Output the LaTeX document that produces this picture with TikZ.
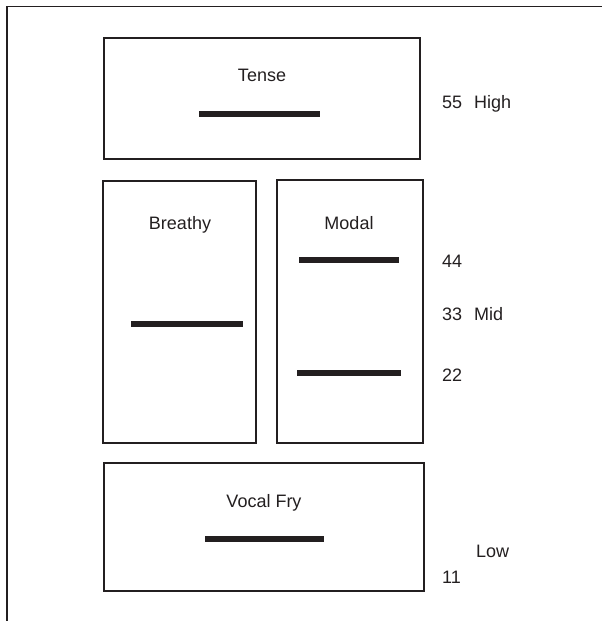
\documentclass[tikz,border=0pt]{standalone}
\usepackage{fontspec}
\setmainfont{Liberation Sans}
\definecolor{ink}{HTML}{231F20}
\tikzset{
  frameline/.style={draw=ink, line width=1.2pt},
  regbox/.style={draw=ink, line width=2.6pt},
  bar/.style={draw=ink, line width=6pt},
  lab/.style={anchor=base, inner sep=0pt, text=ink, font=\fontsize{18}{20}\selectfont},
  num/.style={anchor=base west, inner sep=0pt, text=ink, font=\fontsize{18}{20}\selectfont},
}
\begin{document}
\begin{tikzpicture}[x=1pt, y=-1pt]
  \useasboundingbox (0,0) rectangle (602,621);
  % outer frame: top and left edges only
  \draw[frameline] (7,621) -- (7,6.5) -- (602,6.5);

  % register boxes
  \draw[regbox] (104,38) rectangle (420,159);
  \draw[regbox] (103,181) rectangle (256,443);
  \draw[regbox] (277,180) rectangle (423,443);
  \draw[regbox] (104,463) rectangle (424,591);

  % box titles
  \node[lab] (tense)  at (262,81)  {Tense};
  \node[lab] (breathy) at (180,229) {Breathy};
  \node[lab] (modal)  at (349,229) {Modal};
  \node[lab] (fry)    at (264,507) {Vocal Fry};

  % pitch bars
  \draw[bar] (199,114) -- (320,114);
  \draw[bar] (131,324) -- (243,324);
  \draw[bar] (299,260) -- (399,260);
  \draw[bar] (297,373) -- (401,373);
  \draw[bar] (205,539) -- (324,539);

  % pitch level scale
  \node[num] (n55) at (442,108) {55};
  \node[num] (high) at (474,108) {High};
  \node[num] (n44) at (442,267) {44};
  \node[num] (n33) at (442,320) {33};
  \node[num] (mid) at (474,320) {Mid};
  \node[num] (n22) at (442,381) {22};
  \node[num] (low) at (476,557) {Low};
  \node[num] (n11) at (442,583) {11};
\end{tikzpicture}
\end{document}
